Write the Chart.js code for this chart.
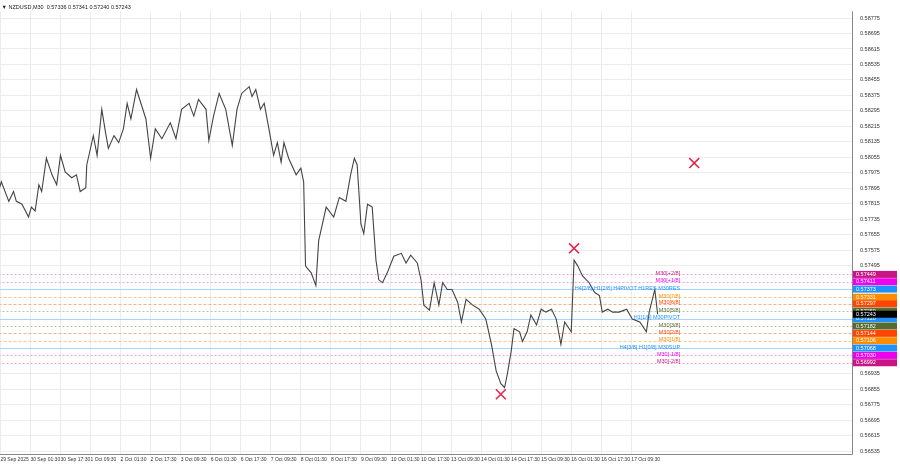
<!DOCTYPE html>
<html>
<head>
<meta charset="utf-8">
<script src="https://cdn.jsdelivr.net/npm/chart.js@4.4.1/dist/chart.umd.min.js"></script>
<style>
html, body { margin: 0; padding: 0; background: #fff; overflow: hidden; }
#wrap { width: 910px; height: 468px; margin-left: -10px; }
</style>
</head>
<body>
<div id="wrap"><canvas id="chart"></canvas></div>
<script>
// M30 bar index and close price
bars = [0,3,11,16,19,25,32,35,39,43,46,51,57,62,66,71,78,83,87,93,94,101,105,110,114,117,123,128,133,137,141,147,157,162,167,174,183,189,195,203,208,213,221,224,229,235,242,249,254,259,267,270,274,279,283,288,293,297,301,304,309,317,322,325,327,333,338,341,349,357,363,370,375,379,382,386,389,393,398,402,405,409,414,421,429,434,439,446,450,453,459,464,469,473,478,483,489,493,498,505,512,519,525,530,535,539,542,546,549,555,558,563,567,573,578,583,589,594,599,603,610,613,617,622,629,635,640,643,649,654,661,669,675,683,690,693,699,702];
closes = [0.57878,0.57928,0.57827,0.57878,0.57827,0.57812,0.57746,0.57797,0.57777,0.57913,0.57878,0.58050,0.57964,0.57913,0.58065,0.57979,0.57949,0.57964,0.57878,0.57898,0.58015,0.58167,0.58065,0.58303,0.58182,0.58101,0.58167,0.58131,0.58202,0.58334,0.58253,0.58405,0.58253,0.58050,0.58202,0.58151,0.58233,0.58151,0.58303,0.58334,0.58268,0.58354,0.58303,0.58141,0.58268,0.58385,0.58303,0.58116,0.58303,0.58385,0.58420,0.58369,0.58405,0.58303,0.58334,0.58202,0.58065,0.58131,0.58030,0.58131,0.58050,0.57964,0.57999,0.57928,0.57492,0.57457,0.57391,0.57624,0.57797,0.57746,0.57847,0.57827,0.57964,0.58050,0.58015,0.57710,0.57660,0.57812,0.57797,0.57523,0.57421,0.57406,0.57457,0.57543,0.57558,0.57508,0.57548,0.57508,0.57421,0.57290,0.57264,0.57406,0.57290,0.57406,0.57371,0.57371,0.57305,0.57203,0.57320,0.57290,0.57269,0.57218,0.57087,0.56950,0.56884,0.56864,0.56935,0.57051,0.57168,0.57152,0.57102,0.57152,0.57239,0.57188,0.57269,0.57254,0.57269,0.57218,0.57087,0.57203,0.57152,0.57523,0.57492,0.57441,0.57406,0.57355,0.57340,0.57254,0.57269,0.57254,0.57254,0.57269,0.57218,0.57203,0.57152,0.57254,0.57371,0.57243];

timeLabels = ["29 Sep 2025","30 Sep 01:30","30 Sep 17:30","1 Oct 09:30","2 Oct 01:30","2 Oct 17:30","3 Oct 09:30","6 Oct 01:30","6 Oct 17:30","7 Oct 09:30","8 Oct 01:30","8 Oct 17:30","9 Oct 09:30","10 Oct 01:30","10 Oct 17:30","13 Oct 09:30","14 Oct 01:30","14 Oct 17:30","15 Oct 09:30","16 Oct 01:30","16 Oct 17:30","17 Oct 09:30"];
priceTicks = [0.58775,0.58695,0.58615,0.58535,0.58455,0.58375,0.58295,0.58215,0.58135,0.58055,0.57975,0.57895,0.57815,0.57735,0.57655,0.57575,0.57495,0.56935,0.56855,0.56775,0.56695,0.56615,0.56535];

levelPrices = [0.57449,0.57411,0.57373,0.57331,0.57297,0.57259,0.57220,0.57182,0.57144,0.57106,0.57068,0.57030,0.56992];
levelNames = ["M30[+2/8]","M30[+1/8]","H4[2/8] H1[2/8] H4PIVOT H1RES M30RES","M30[7/8]","M30[6/8]","M30[5/8]","H1[1/8] M30PIVOT","M30[3/8]","M30[2/8]","M30[1/8]","H4[3/8] H1[0/8] M30SUP","M30[-1/8]","M30[-2/8]"];
levelColors = ["#c71585","#ee00ee","#1e90ff","#ff8c00","#ff4500","#556b2f","#1e90ff","#556b2f","#ff4500","#ff8c00","#1e90ff","#ee00ee","#c71585"];
lineColors = ["#f0a0d0","#f4a0f4","#a8d4ff","#f8c890","#f8b090","#b8c4a8","#a8d4ff","#b8c4a8","#f8b090","#f8c890","#a8d4ff","#f4a0f4","#f0a0d0"];
lineDash = [[2,2],[2,2],[],[3,2],[3,2],[2,2],[],[2,2],[3,2],[3,2],[],[2,2],[2,2]];

markerBars = [535,613,741];
markerPrices = [0.56829,0.57584,0.58025];
lastPrice = 0.57243;

var levelPlugin = {
    id: 'levels',
    beforeDatasetsDraw(chart) {
        var ctx = chart.ctx, a = chart.chartArea, y = chart.scales.y;
        ctx.save();
        ctx.lineWidth = 1;
        for (var i = 0; i < levelPrices.length; i++) {
            var py = Math.round(y.getPixelForValue(levelPrices[i])) + 0.5;
            ctx.strokeStyle = lineColors[i];
            ctx.setLineDash(lineDash[i]);
            ctx.beginPath(); ctx.moveTo(a.left, py); ctx.lineTo(a.right, py); ctx.stroke();
        }
        ctx.restore();
    },
    afterDraw(chart) {
        var ctx = chart.ctx, a = chart.chartArea, y = chart.scales.y, x = chart.scales.x;
        ctx.save();
        ctx.font = '5.5px "Liberation Sans"';
        ctx.textBaseline = 'middle';
        var textX = x.getPixelForValue(726);
        for (var i = 0; i < levelPrices.length; i++) {
            var py = y.getPixelForValue(levelPrices[i]);
            ctx.fillStyle = levelColors[i];
            ctx.textAlign = 'right';
            ctx.fillText(levelNames[i], textX, py - 1);
            ctx.fillRect(a.right + 1, py - 3.5, 44, 7);
            ctx.fillStyle = '#fff';
            ctx.textAlign = 'left';
            ctx.fillText(levelPrices[i].toFixed(5), a.right + 4, py);
        }
        var lp = y.getPixelForValue(lastPrice);
        ctx.fillStyle = '#000';
        ctx.fillRect(a.right + 1, lp - 3.5, 44, 7);
        ctx.fillStyle = '#fff';
        ctx.fillText(lastPrice.toFixed(5), a.right + 4, lp);
        // frame
        ctx.strokeStyle = '#888';
        ctx.lineWidth = 1;
        ctx.beginPath();
        ctx.moveTo(a.left, a.bottom + 0.5); ctx.lineTo(a.right + 0.5, a.bottom + 0.5); ctx.lineTo(a.right + 0.5, a.top);
        ctx.stroke();
        ctx.fillStyle = '#222';
        ctx.fillText('\u25BC NZDUSD,M30  0.57336 0.57341 0.57240 0.57243', a.left + 3, 7);
        ctx.restore();
    }
};

new Chart(document.getElementById('chart'), {
    data: {
        datasets: [{
            type: 'line',
            data: bars.map((b, i) => ({x: b, y: closes[i]})),
            borderColor: '#444',
            borderWidth: 1.1,
            pointRadius: 0,
            tension: 0
        }, {
            type: 'scatter',
            data: markerBars.map((b, i) => ({x: b, y: markerPrices[i]})),
            pointStyle: 'crossRot',
            pointRadius: 7,
            borderColor: '#e8204a',
            borderWidth: 1.5
        }]
    },
    options: {
        responsive: true,
        maintainAspectRatio: false,
        animation: false,
        layout: { padding: { top: 3, left: 0, right: 0, bottom: 0 } },
        plugins: { legend: { display: false }, tooltip: { enabled: false } },
        scales: {
            x: {
                type: 'linear',
                min: 0,
                max: 909,
                afterBuildTicks: axis => { axis.ticks = timeLabels.map((t, i) => ({value: 2 + i * 32})); },
                afterFit: axis => { axis.height = 14; },
                ticks: {
                    callback: (v, i) => timeLabels[i],
                    align: 'start',
                    maxRotation: 0,
                    autoSkip: false,
                    padding: 3,
                    color: '#333',
                    font: { size: 5, family: 'Liberation Sans' }
                },
                grid: { color: '#ececec', drawTicks: false },
                border: { display: false }
            },
            y: {
                position: 'right',
                min: 0.5652,
                max: 0.5881,
                afterBuildTicks: axis => { axis.ticks = priceTicks.map(v => ({value: v})); },
                afterFit: axis => { axis.width = 48; },
                ticks: {
                    callback: v => v.toFixed(5),
                    autoSkip: false,
                    padding: 8,
                    color: '#333',
                    font: { size: 5.5, family: 'Liberation Sans' }
                },
                grid: { color: '#ececec', drawTicks: false },
                border: { display: false }
            }
        }
    },
    plugins: [levelPlugin]
});
</script>
</body>
</html>
